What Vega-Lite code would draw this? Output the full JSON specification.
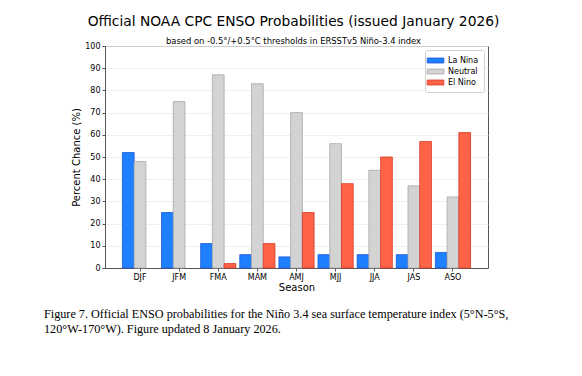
{
  "$schema": "https://vega.github.io/schema/vega-lite/v6.json",
  "padding": {"left": 44, "top": 14, "right": 5, "bottom": 5},
  "background": "white",
  "title": {
    "text": ["Figure 7. Official ENSO probabilities for the Niño 3.4 sea surface temperature index (5°N-5°S,", "120°W-170°W). Figure updated 8 January 2026."],
    "orient": "bottom",
    "anchor": "start",
    "frame": "group",
    "dx": -61,
    "font": "Liberation Serif",
    "fontSize": 12.2,
    "fontWeight": "normal",
    "color": "black",
    "lineHeight": 15,
    "offset": 15
  },
  "vconcat": [
    {
      "width": 383,
      "height": 222,
      "title": {
        "text": "Official NOAA CPC ENSO Probabilities (issued January 2026)",
        "subtitle": "based on -0.5°/+0.5°C thresholds in ERSSTv5 Niño-3.4 index",
        "font": "DejaVu Sans",
        "fontSize": 13.8,
        "fontWeight": "normal",
        "color": "black",
        "subtitleFont": "DejaVu Sans",
        "subtitleFontSize": 8.4,
        "subtitleColor": "black",
        "subtitlePadding": 8,
        "anchor": "middle",
        "dx": -3,
        "offset": -3
      },
      "data": {
        "values": [
          {"season": "DJF", "category": "La Nina", "pct": 52},
          {"season": "DJF", "category": "Neutral", "pct": 48},
          {"season": "DJF", "category": "El Nino", "pct": 0},
          {"season": "JFM", "category": "La Nina", "pct": 25},
          {"season": "JFM", "category": "Neutral", "pct": 75},
          {"season": "JFM", "category": "El Nino", "pct": 0},
          {"season": "FMA", "category": "La Nina", "pct": 11},
          {"season": "FMA", "category": "Neutral", "pct": 87},
          {"season": "FMA", "category": "El Nino", "pct": 2},
          {"season": "MAM", "category": "La Nina", "pct": 6},
          {"season": "MAM", "category": "Neutral", "pct": 83},
          {"season": "MAM", "category": "El Nino", "pct": 11},
          {"season": "AMJ", "category": "La Nina", "pct": 5},
          {"season": "AMJ", "category": "Neutral", "pct": 70},
          {"season": "AMJ", "category": "El Nino", "pct": 25},
          {"season": "MJJ", "category": "La Nina", "pct": 6},
          {"season": "MJJ", "category": "Neutral", "pct": 56},
          {"season": "MJJ", "category": "El Nino", "pct": 38},
          {"season": "JJA", "category": "La Nina", "pct": 6},
          {"season": "JJA", "category": "Neutral", "pct": 44},
          {"season": "JJA", "category": "El Nino", "pct": 50},
          {"season": "JAS", "category": "La Nina", "pct": 6},
          {"season": "JAS", "category": "Neutral", "pct": 37},
          {"season": "JAS", "category": "El Nino", "pct": 57},
          {"season": "ASO", "category": "La Nina", "pct": 7},
          {"season": "ASO", "category": "Neutral", "pct": 32},
          {"season": "ASO", "category": "El Nino", "pct": 61}
        ]
      },
      "mark": {"type": "bar", "strokeWidth": 0.8},
      "encoding": {
        "x": {
          "field": "season",
          "type": "nominal",
          "sort": ["DJF", "JFM", "FMA", "MAM", "AMJ", "MJJ", "JJA", "JAS", "ASO"],
          "scale": {"paddingInner": 0.1, "paddingOuter": 0.445},
          "axis": {
            "title": "Season",
            "labelAngle": 0,
            "labelFont": "DejaVu Sans",
            "labelFontSize": 8,
            "labelColor": "black",
            "titleFont": "DejaVu Sans",
            "titleFontSize": 10,
            "titleFontWeight": "normal",
            "titleColor": "black",
            "titlePadding": 1,
            "domainColor": "#555555",
            "tickColor": "#555555",
            "tickSize": 3,
            "labelPadding": 2
          }
        },
        "xOffset": {
          "field": "category",
          "type": "nominal",
          "sort": ["La Nina", "Neutral", "El Nino"],
          "scale": {"paddingInner": 0, "paddingOuter": 0}
        },
        "y": {
          "field": "pct",
          "type": "quantitative",
          "scale": {"domain": [0, 100], "nice": false},
          "axis": {
            "title": "Percent Chance (%)",
            "values": [0, 10, 20, 30, 40, 50, 60, 70, 80, 90, 100],
            "labelFont": "DejaVu Sans",
            "labelFontSize": 8,
            "labelColor": "black",
            "titleFont": "DejaVu Sans",
            "titleFontSize": 10,
            "titleFontWeight": "normal",
            "titleColor": "black",
            "titlePadding": 3,
            "domainColor": "#555555",
            "tickColor": "#555555",
            "tickSize": 3,
            "gridColor": "#ebebeb",
            "gridWidth": 0.8
          }
        },
        "color": {
          "field": "category",
          "type": "nominal",
          "scale": {"domain": ["La Nina", "Neutral", "El Nino"], "range": ["#1f80ff", "#d3d3d3", "#ff6347"]},
          "legend": {
            "title": null,
            "orient": "top-right",
            "offset": 4,
            "labelFont": "DejaVu Sans",
            "labelFontSize": 8,
            "labelColor": "black",
            "symbolType": "M-1.67,-0.5H1.67V0.5H-1.67Z",
            "symbolSize": 100,
            "symbolStrokeWidth": 0.8,
            "rowPadding": 1,
            "padding": 5,
            "strokeColor": "#d0d0d0",
            "fillColor": "white",
            "cornerRadius": 2,
            "labelOffset": 7
          }
        },
        "stroke": {
          "field": "category",
          "type": "nominal",
          "scale": {"domain": ["La Nina", "Neutral", "El Nino"], "range": ["#1a55d8", "#a8a8a8", "#d83a28"]},
          "legend": null
        },
        "strokeOpacity": {
          "condition": {"test": "datum.pct === 0", "value": 0},
          "value": 1
        }
      }
    }
  ],
  "config": {
    "view": {"stroke": "#555555", "strokeWidth": 1},
    "axis": {"domainWidth": 1}
  }
}
